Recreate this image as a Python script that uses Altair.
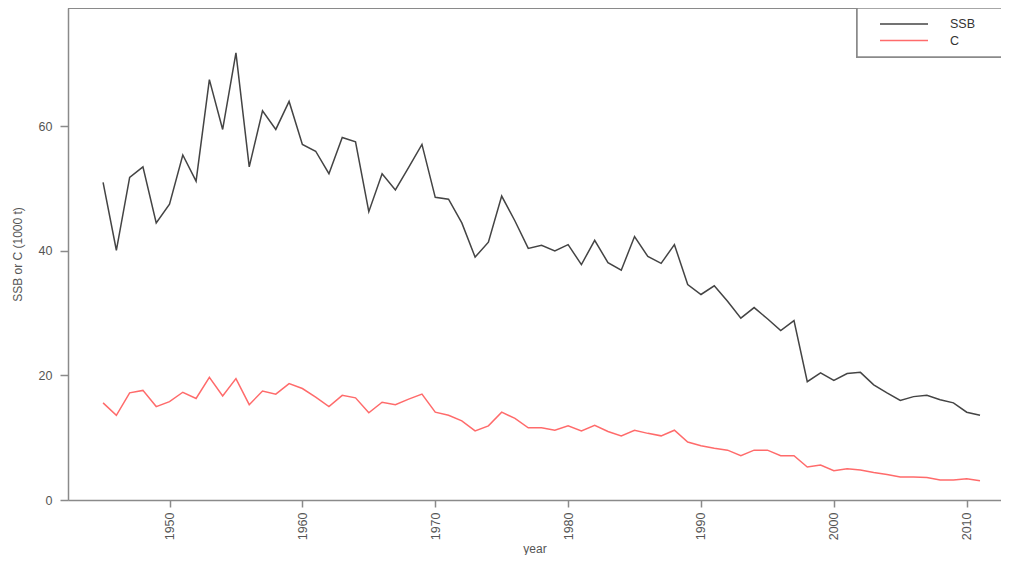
import altair as alt
import pandas as pd

years = list(range(1945, 2012))
ssb = [51.0, 40.1, 51.8, 53.5, 44.5, 47.5, 55.4, 51.2, 67.5, 59.5,
       71.8, 53.5, 62.5, 59.5, 64.0, 57.1, 56.0, 52.4, 58.2, 57.5,
       46.3, 52.4, 49.8, 53.4, 57.1, 48.6, 48.3, 44.5, 39.0, 41.4,
       48.8, 44.8, 40.4, 40.9, 40.0, 41.0, 37.8, 41.7, 38.1, 36.9,
       42.3, 39.1, 38.0, 41.0, 34.6, 33.0, 34.4, 31.9, 29.2, 30.9,
       29.1, 27.2, 28.8, 19.0, 20.4, 19.2, 20.3, 20.5, 18.5, 17.2,
       16.0, 16.6, 16.8, 16.1, 15.6, 14.1, 13.6]
catch = [15.6, 13.6, 17.2, 17.6, 15.0, 15.8, 17.3, 16.3, 19.7, 16.7,
         19.5, 15.3, 17.5, 17.0, 18.7, 17.9, 16.5, 15.0, 16.8, 16.4,
         14.0, 15.7, 15.3, 16.2, 17.0, 14.1, 13.6, 12.7, 11.1, 11.9,
         14.1, 13.1, 11.6, 11.6, 11.2, 11.9, 11.1, 12.0, 11.0, 10.3,
         11.2, 10.7, 10.3, 11.2, 9.3, 8.7, 8.3, 8.0, 7.1, 8.0,
         8.0, 7.1, 7.1, 5.3, 5.6, 4.7, 5.0, 4.8, 4.4, 4.1,
         3.7, 3.7, 3.6, 3.2, 3.2, 3.4, 3.1]
series_names = ["SSB", "C"]
series_colors = ["#444444", "#ff6b6b"]
x_ticks = [1950, 1960, 1970, 1980, 1990, 2000, 2010]
y_ticks = [0, 20, 40, 60]

df = pd.DataFrame({
    "year": years * 2,
    "value": ssb + catch,
    "series": [series_names[0]] * len(years) + [series_names[1]] * len(years),
})

W, H = 933, 492
FONT = "Liberation Sans"
AX = "#8a8a8a"
TXT = "#555555"

x_enc = alt.X("year:Q", scale=alt.Scale(domain=[1942.36, 2012.58], nice=False, zero=False),
              axis=alt.Axis(values=x_ticks, title="year", labelAngle=270, grid=False,
                            tickSize=7, labelPadding=5, titlePadding=4,
                            domainColor=AX, domainWidth=1.5, tickColor=AX, tickWidth=1.5,
                            labelColor=TXT, titleColor=TXT, labelFontSize=12.5,
                            titleFontSize=12, titleFontWeight="normal",
                            labelFont=FONT, titleFont=FONT, format="d"))
y_enc = alt.Y("value:Q", scale=alt.Scale(domain=[0, 79.0], nice=False),
              axis=alt.Axis(values=y_ticks, title="SSB or C (1000 t)", grid=False,
                            tickSize=8, labelPadding=8, titlePadding=14,
                            domainColor=AX, domainWidth=1.5, tickColor=AX, tickWidth=1.5,
                            labelColor=TXT, titleColor=TXT, labelFontSize=12.5,
                            titleFontSize=12, titleFontWeight="normal",
                            labelFont=FONT, titleFont=FONT))

lines = alt.Chart(df).mark_line(strokeWidth=1.5).encode(
    x=x_enc,
    y=y_enc,
    color=alt.Color("series:N", scale=alt.Scale(domain=series_names, range=series_colors), legend=None),
    detail="series:N",
)

top_frame = alt.Chart(df).mark_rule(color=AX, strokeWidth=1.5).encode(
    x=alt.value(0), x2=alt.value(W + 10), y=alt.value(0)
)

legend_box = alt.Chart(df).mark_rect(fill="white", stroke=AX, strokeWidth=1.5).encode(
    x=alt.value(789), x2=alt.value(960), y=alt.value(0), y2=alt.value(49)
)

leg_layers = []
for i, (name, col) in enumerate(zip(series_names, series_colors)):
    yy = 16 + i * 16.5
    leg_df = pd.DataFrame({"series": [name]})
    leg_layers.append(alt.Chart(leg_df).mark_rule(color=col, strokeWidth=1.5).encode(
        x=alt.value(812), x2=alt.value(860), y=alt.value(yy)))
    leg_layers.append(alt.Chart(leg_df).mark_text(align="left", baseline="middle", font=FONT,
                                                  fontSize=12.5, color="#333333").encode(
        x=alt.value(882), y=alt.value(yy), text="series:N"))

chart = alt.layer(lines, top_frame, legend_box, *leg_layers).properties(
    width=W, height=H,
    autosize=alt.AutoSizeParams(type="none"),
    padding={"left": 60, "top": 0, "right": 0, "bottom": 55},
).configure_view(stroke=None).configure(background="white")

chart.save("out.html", embed_options={"renderer": "svg", "actions": False})
